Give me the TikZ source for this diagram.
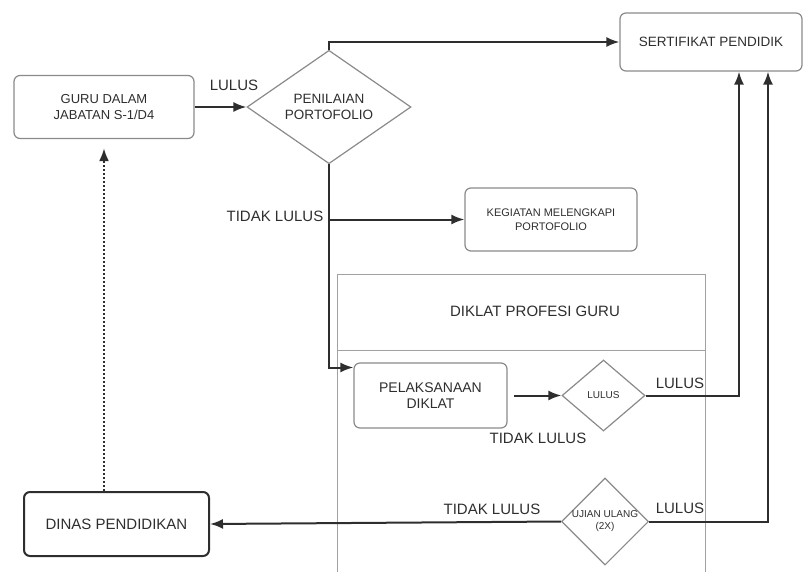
\documentclass[tikz,border=0pt]{standalone}
\usepackage{fontspec}
\setmainfont{Liberation Sans}
\usetikzlibrary{shapes.geometric,arrows.meta}
\definecolor{ink}{HTML}{2E2E2E}
\definecolor{edge}{HTML}{8A8A8A}
\tikzset{
    box/.style={draw=edge, line width=1.2pt, rounded corners=6pt, align=center,
        text=ink, inner sep=0pt},
    decision/.style={draw=edge, line width=1.2pt, diamond, align=center,
        text=ink, inner sep=0pt},
    lbl/.style={text=ink, font=\fontsize{15}{17}\selectfont, inner sep=0pt},
    conn/.style={draw=ink, line width=2pt, -{Latex[length=13pt,width=10pt]}},
    lane/.style={draw=edge!80, line width=0.9pt}
}
\begin{document}
\begin{tikzpicture}[x=1pt,y=-1pt]
    \useasboundingbox (0,0) rectangle (804,571);

    % Diklat lane
    \draw[lane] (337,580) -- (337,274) -- (705,274) -- (705,580);
    \draw[lane] (337,350) -- (705,350);
    \node[lbl] (lanetitle) at (535,311) {DIKLAT PROFESI GURU};

    % Top row
    \node[box, minimum width=180pt, minimum height=63pt,
        font=\fontsize{13}{16}\selectfont] (guru) at (104,107) {GURU DALAM\\JABATAN S-1/D4};
    \node[decision, minimum width=164pt, minimum height=101pt,
        font=\fontsize{13.5}{16}\selectfont] (nilai) at (329,107) {PENILAIAN\\PORTOFOLIO};
    \node[box, minimum width=182pt, minimum height=58pt,
        font=\fontsize{13.5}{16}\selectfont] (sert) at (711,42) {SERTIFIKAT PENDIDIK};
    \node[lbl] (lulus1) at (234,85) {LULUS};

    % Tidak lulus portofolio
    \node[box, minimum width=172pt, minimum height=63pt,
        font=\fontsize{11}{14}\selectfont] (keg) at (551,219.5) {KEGIATAN MELENGKAPI\\PORTOFOLIO};
    \node[lbl] (tidak1) at (275,216) {TIDAK LULUS};
    \coordinate (split) at (nilai.south |- keg.west);

    % Diklat
    \node[box, minimum width=153pt, minimum height=65pt,
        font=\fontsize{14}{16.5}\selectfont] (pel) at (430.5,395.5) {PELAKSANAAN\\DIKLAT};
    \node[decision, minimum width=83pt, minimum height=71pt,
        font=\fontsize{10}{12}\selectfont] (uji) at (603.5,395.5) {LULUS};
    \node[lbl] (lulus2) at (680,383) {LULUS};
    \node[lbl] (tidak2) at (538,438) {TIDAK LULUS};

    % Ujian ulang
    \node[decision, minimum width=86pt, minimum height=73pt,
        font=\fontsize{10}{12}\selectfont] (ulang) at (605,521.5) {UJIAN ULANG\\(2X)};
    \node[lbl] (lulus3) at (680,508) {LULUS};
    \node[lbl] (tidak3) at (492,509) {TIDAK LULUS};

    % Dinas
    \node[box, draw=ink, line width=2pt, minimum width=185pt, minimum height=64pt,
        font=\fontsize{15}{18}\selectfont] (dinas) at (116.5,524) {DINAS PENDIDIKAN};

    % Connectors
    \draw[conn] (guru.east) -- (nilai.west);
    \draw[conn] (nilai.north) |- (sert.west);
    \draw[draw=ink, line width=2pt] (nilai.south) -- (split);
    \draw[conn] (split) -- (keg.west);
    \draw[conn] (split) |- ([yshift=28pt]pel.west);
    \draw[conn, shorten <=6pt] (pel.east) -- (uji.west);
    \draw[conn] (uji.east) -| ([xshift=28pt]sert.south);
    \draw[conn] (ulang.east) -| ([xshift=57pt]sert.south);
    \draw[conn] (ulang.west) -- (dinas.east);
    \draw[conn, dotted, line width=2.4pt, shorten >=9pt] (dinas.north -| guru.south) -- (guru.south);
\end{tikzpicture}
\end{document}
